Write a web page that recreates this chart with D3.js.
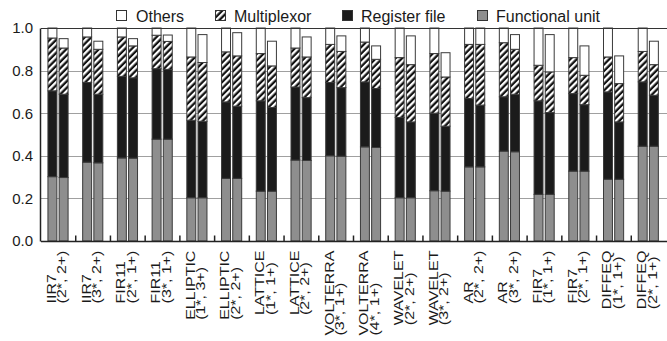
<!DOCTYPE html>
<html>
<head>
<meta charset="utf-8">
<script src="https://cdn.jsdelivr.net/npm/d3@7"></script>
<style>
	body { margin: 0; background: #fff; }
	text { font-family: "Liberation Sans", Arial, sans-serif; fill: #1a1a1a; }
</style>
</head>
<body>
<svg class="bar-chart" width="667" height="341"></svg>
<script>
// Static data: two bars per benchmark, values are fractions of the first bar
const names = ['IIR7', 'IIR7', 'FIR11', 'FIR11', 'ELLIPTIC', 'ELLIPTIC', 'LATTICE', 'LATTICE', 'VOLTERRA',
	'VOLTERRA', 'WAVELET', 'WAVELET', 'AR', 'AR', 'FIR7', 'FIR7', 'DIFFEQ', 'DIFFEQ'];
const params = ['(2*, 2+)', '(3*, 2+)', '(2*, 1+)', '(3*, 1+)', '(1*, 3+)', '(2*, 2+)', '(1*, 1+)', '(2*, 2+)', '(3*, 1+)',
	'(4*, 1+)', '(2*, 2+)', '(3*, 2+)', '(2*, 2+)', '(3*, 2+)', '(1*, 1+)', '(2*, 1+)', '(1*, 1+)', '(2*, 1+)'];

const functionalUnit = [[.302, .298], [.370, .367], [.390, .389], [.478, .478], [.203, .203], [.294, .294],
	[.234, .234], [.380, .378], [.400, .398], [.442, .439], [.203, .203], [.236, .234], [.348, .348],
	[.422, .419], [.219, .219], [.328, .328], [.290, .290], [.445, .445]];
const registerFile = [[.403, .391], [.374, .322], [.383, .377], [.331, .328], [.364, .359], [.359, .339],
	[.424, .393], [.343, .295], [.344, .322], [.305, .277], [.377, .356], [.364, .305], [.321, .290],
	[.255, .270], [.439, .384], [.364, .312], [.410, .269], [.302, .239]];
const multiplexor = [[.248, .217], [.214, .211], [.185, .150], [.157, .131], [.297, .276], [.235, .236],
	[.222, .195], [.183, .191], [.179, .170], [.187, .137], [.281, .269], [.280, .231], [.254, .285],
	[.254, .211], [.167, .191], [.169, .138], [.164, .180], [.143, .144]];
const others = [[.047, .044], [.042, .038], [.042, .034], [.034, .030], [.136, .131], [.112, .109],
	[.120, .116], [.094, .094], [.077, .073], [.066, .063], [.139, .135], [.120, .114], [.077, .077],
	[.069, .069], [.175, .175], [.139, .138], [.136, .130], [.110, .110]];

const yTicks = [0, 0.2, 0.4, 0.6, 0.8, 1.0];

const keys = ['fu', 'rf', 'mx', 'ot'];
const legendItems = [
	{ key: 'ot', label: 'Others', x: 116 },
	{ key: 'mx', label: 'Multiplexor', x: 215 },
	{ key: 'rf', label: 'Register file', x: 342 },
	{ key: 'fu', label: 'Functional unit', x: 477 }
];

const margin = {
	top: 28,
	right: 1,
	bottom: 100,
	left: 41
};

// DOM stuff
const chart = d3.select('.bar-chart');
const chartWidth = +chart.attr('width');
const chartHeight = +chart.attr('height');

// rows: one per bar
const rows = [];
names.forEach((n, i) => {
	[0, 1].forEach(b => {
		rows.push({
			cat: i,
			bar: b,
			fu: functionalUnit[i][b],
			rf: registerFile[i][b],
			mx: multiplexor[i][b],
			ot: others[i][b]
		});
	});
});

const series = d3.stack().keys(keys)(rows);

// D3.js setup
const x0 = d3.scaleBand().domain(d3.range(names.length)).range([margin.left, chartWidth - margin.right]);
const x1 = d3.scaleBand().domain([0, 1])
	.range([x0.bandwidth() * 0.2, x0.bandwidth() * 0.78])
	.paddingInner(0.2);
const y = d3.scaleLinear().domain([0, 1]).range([chartHeight - margin.bottom, margin.top]);

const fills = {
	fu: '#8e8e8e',
	rf: '#1b1b1b',
	mx: 'url(#hatch)',
	ot: '#ffffff'
};

// hatch pattern
const defs = chart.append('defs');
const pat = defs.append('pattern')
	.attr('id', 'hatch')
	.attr('patternUnits', 'userSpaceOnUse')
	.attr('width', 4.6)
	.attr('height', 4.6)
	.attr('patternTransform', 'rotate(45)');
pat.append('rect').attr('width', 4.6).attr('height', 4.6).attr('fill', '#111');
pat.append('rect').attr('width', 2.3).attr('height', 4.6).attr('fill', '#ffffff');

// grid
chart.append('g')
	.selectAll('line')
	.data(yTicks.slice(1, -1))
	.enter().append('line')
	.attr('x1', margin.left)
	.attr('x2', chartWidth)
	.attr('y1', d => Math.round(y(d)) + 0.5)
	.attr('y2', d => Math.round(y(d)) + 0.5)
	.attr('stroke', '#a0a0a0')
	.attr('stroke-width', 1);

// bars
chart.append('g')
	.selectAll('g')
	.data(series)
	.enter().append('g')
	.attr('fill', d => fills[d.key])
	.selectAll('rect')
	.data(d => d)
	.enter().append('rect')
	.attr('x', d => x0(d.data.cat) + x1(d.data.bar))
	.attr('y', d => y(d[1]))
	.attr('width', x1.bandwidth())
	.attr('height', d => y(d[0]) - y(d[1]))
	.attr('stroke', '#3a3a3a')
	.attr('stroke-width', 1);

// axes frame
const y0 = Math.round(y(0)) + 0.5;
const yTop = Math.round(y(1)) + 0.5;
chart.append('line')
	.attr('x1', margin.left).attr('x2', chartWidth)
	.attr('y1', yTop).attr('y2', yTop)
	.attr('stroke', '#333').attr('stroke-width', 1.2);
chart.append('line')
	.attr('x1', margin.left).attr('x2', chartWidth)
	.attr('y1', y0).attr('y2', y0)
	.attr('stroke', '#222').attr('stroke-width', 1.5);
chart.append('line')
	.attr('x1', margin.left - 0.5).attr('x2', margin.left - 0.5)
	.attr('y1', yTop).attr('y2', y0)
	.attr('stroke', '#222').attr('stroke-width', 1.5);

// group ticks
chart.append('g')
	.selectAll('line')
	.data(d3.range(1, names.length))
	.enter().append('line')
	.attr('x1', d => x0(d))
	.attr('x2', d => x0(d))
	.attr('y1', y0)
	.attr('y2', y0 - 6)
	.attr('stroke', '#222')
	.attr('stroke-width', 1.5);

// y labels
chart.append('g')
	.selectAll('text')
	.data(yTicks)
	.enter().append('text')
	.attr('x', 33)
	.attr('y', d => y(d) + 5.4)
	.attr('text-anchor', 'end')
	.style('font-size', '15px')
	.text(d => d.toFixed(1));

// x labels
const labelTop = 250.5;
chart.append('g')
	.selectAll('g')
	.data(names)
	.enter().append('g')
	.each(function(d, i) {
		const g = d3.select(this);
		const cx = x0(i) + x0.bandwidth() / 2;
		const t1 = g.append('text').text(names[i]).style('font-size', '16px');
		const t2 = g.append('text').text(params[i]).style('font-size', '16px');
		const len = Math.max(t1.node().getComputedTextLength(), t2.node().getComputedTextLength());
		t1.attr('transform', `translate(${cx - 2.5}, ${labelTop + len}) rotate(-90) scale(1, 0.78)`);
		t2.attr('transform', `translate(${cx + 8}, ${labelTop + len}) rotate(-90) scale(1, 0.78)`);
	});

// legend
const legend = chart.append('g')
	.selectAll('g')
	.data(legendItems)
	.enter().append('g')
	.attr('transform', d => `translate(${d.x}, 0)`);

legend.append('rect')
	.attr('x', 0.5)
	.attr('y', 10.5)
	.attr('width', 10)
	.attr('height', 10)
	.attr('fill', d => fills[d.key])
	.attr('stroke', '#333');

legend.append('text')
	.attr('x', d => d.key === 'ot' ? 20 : 19)
	.attr('y', 21.5)
	.style('font-size', '16px')
	.text(d => d.label);
</script>
</body>
</html>
